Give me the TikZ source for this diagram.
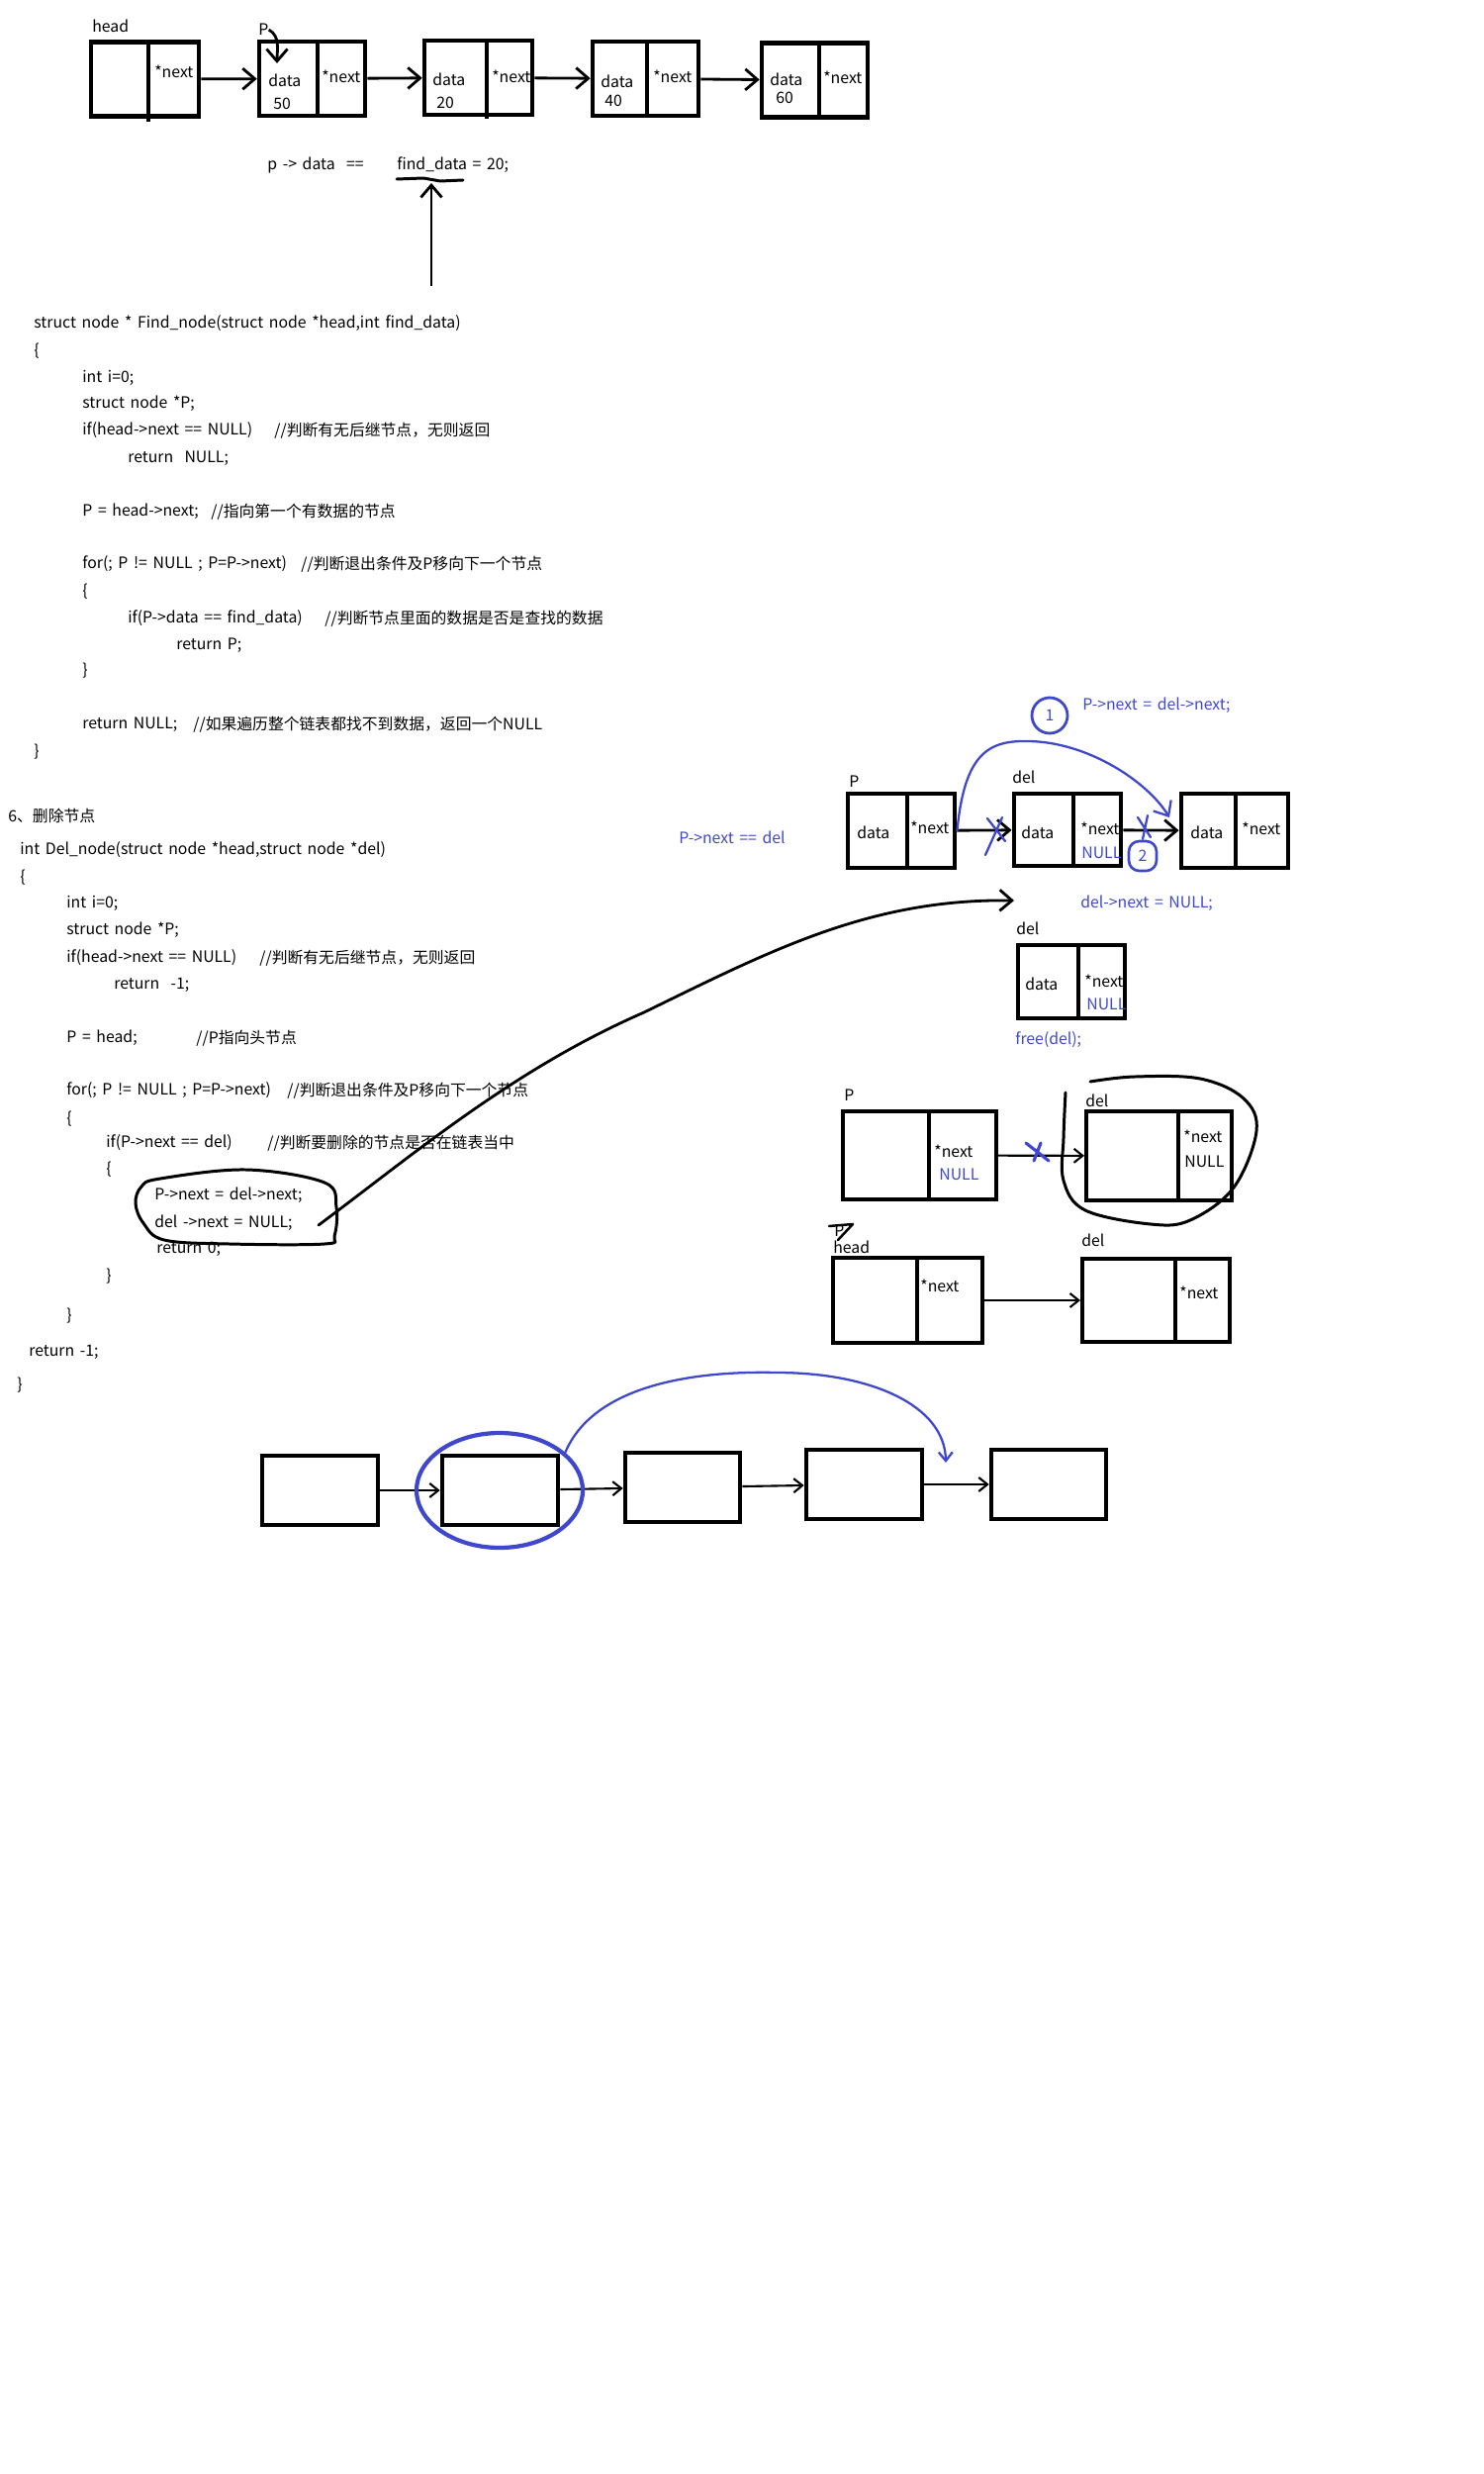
\documentclass[tikz,border=0pt]{standalone}
\usepackage{fontspec}
\setmainfont{Noto Sans CJK SC}[WordSpace=1.6]
\usetikzlibrary{arrows.meta,positioning,shapes.geometric}
\definecolor{pen}{RGB}{63,72,204}

\begin{document}
\begin{tikzpicture}[x=0.02cm,y=-0.02cm,
  every node/.style={font=\fontsize{9}{11}\selectfont},
  txt/.style={anchor=west,inner sep=0pt},
  bluetxt/.style={anchor=west,inner sep=0pt,text=pen},
  cell/.style={draw,line width=2.6pt,inner sep=0pt,minimum width=2.14cm,minimum height=1.5cm},
  cellb/.style={draw,line width=2.8pt,inner sep=0pt,minimum width=2.16cm,minimum height=1.5cm},
  cellc/.style={draw,line width=2.3pt,inner sep=0pt},
  sq/.style={draw,line width=2.6pt,inner sep=0pt,minimum width=2.34cm,minimum height=1.4cm},
  divline/.style={line width=1.8pt},
  link/.style={line width=1.6pt,-{Straight Barb[length=7pt,width=12pt]}},
  slink/.style={line width=1.2pt,-{Straight Barb[length=5pt,width=8pt]}},
  hand/.style={line width=1.7pt,line cap=round,line join=round},
  bluepen/.style={draw=pen,line width=1.3pt,line cap=round}]
\useasboundingbox (0,0) rectangle (1500,2500);

% search list
\node[cell,minimum width=2.18cm] (hd) at (146.5,80) {};
\node[cell] (n1) at (315.5,79.5) {};
\node[cell,minimum width=2.18cm] (n2) at (483.5,78.5) {};
\node[cell] (n3) at (652.5,79.5) {};
\node[cell] (n4) at (823.5,81) {};
\draw[divline] (150,42) -- (150,123);
\draw[divline] (321,42) -- (321,117);
\draw[divline] (492,41) -- (492,120);
\draw[divline] (654,42) -- (654,117);
\draw[divline] (828,43) -- (828,119);
\node[txt] (hdtxt) at (93,26) {head};
\node[txt] (hdnx) at (156,72) {*next};
\node[txt] (n1d) at (271,81) {data};
\node[txt] (n1v) at (276,105) {50};
\node[txt] (n1nx) at (325,77) {*next};
\node[txt] (n2d) at (437,80) {data};
\node[txt] (n2v) at (441,104) {20};
\node[txt] (n2nx) at (497,77) {*next};
\node[txt] (n3d) at (607,82) {data};
\node[txt] (n3v) at (611,102) {40};
\node[txt] (n3nx) at (660,77) {*next};
\node[txt] (n4d) at (778,80) {data};
\node[txt] (n4v) at (784,99) {60};
\node[txt] (n4nx) at (832,78) {*next};
\draw[link] (hd) -- (n1);
\draw[link] (n1) -- (n2);
\draw[link] (n2) -- (n3);
\draw[link] (n3) -- (n4);
\node[txt] (plbl) at (261,30) {P};
\coordinate (ptip) at (280,64);
\draw[link] (plbl.east) to[out=-30,in=90] (ptip);

\node[txt] (cmp) at (270,167) {p -> data\ \ ==};
\node[txt] (fdv) at (401,167) {find\_data = 20;};
\draw[hand] (401,181) -- (428,180) -- (445,183) -- (468,182);
\coordinate (ulbot) at (436,289);
\coordinate (ultop) at (436,185);
\draw[link] (ulbot) -- (ultop);

% Find_node
\node[txt] (f1) at (34,327) {struct node * Find\_node(struct node *head,int find\_data)};
\node[txt] (f2) at (34,355) {\{};
\node[txt] (f3) at (83,382) {int i=0;};
\node[txt] (f4) at (83,408) {struct node *P;};
\node[txt] (f5) at (83,435) {if(head->next == NULL)};
\node[txt] (f5c) at (277,435) {//判断有无后继节点，无则返回};
\node[txt] (f6) at (129,463) {return\ \ NULL;};
\node[txt] (f7) at (83,517) {P = head->next;};
\node[txt] (f7c) at (213,517) {//指向第一个有数据的节点};
\node[txt] (f8) at (83,570) {for(; P != NULL ; P=P->next)};
\node[txt] (f8c) at (304,570) {//判断退出条件及P移向下一个节点};
\node[txt] (f9) at (83,598) {\{};
\node[txt] (f10) at (129,625) {if(P->data == find\_data)};
\node[txt] (f10c) at (328,625) {//判断节点里面的数据是否是查找的数据};
\node[txt] (f11) at (178,652) {return P;};
\node[txt] (f12) at (83,678) {\}};
\node[txt] (f13) at (83,732) {return NULL;};
\node[txt] (f13c) at (195,732) {//如果遍历整个链表都找不到数据，返回一个NULL};
\node[txt] (f14) at (34,760) {\}};

% Del_node
\node[txt] (s6) at (8,824) {6、删除节点};
\node[txt] (d1) at (20,859) {int Del\_node(struct node *head,struct node *del)};
\node[txt] (d2) at (20,887) {\{};
\node[txt] (d3) at (67,913) {int i=0;};
\node[txt] (d4) at (67,940) {struct node *P;};
\node[txt] (d5) at (67,968) {if(head->next == NULL)};
\node[txt] (d5c) at (262,968) {//判断有无后继节点，无则返回};
\node[txt] (d6) at (115,995) {return\ \ -1;};
\node[txt] (d7) at (67,1049) {P = head;};
\node[txt] (d7c) at (198,1049) {//P指向头节点};
\node[txt] (d8) at (67,1102) {for(; P != NULL ; P=P->next)};
\node[txt] (d8c) at (290,1102) {//判断退出条件及P移向下一个节点};
\node[txt] (d9) at (67,1131) {\{};
\node[txt] (d10) at (107,1155) {if(P->next == del)};
\node[txt] (d10c) at (270,1155) {//判断要删除的节点是否在链表当中};
\node[txt] (d11) at (107,1182) {\{};
\node[txt] (d12) at (156,1208) {P->next = del->next;};
\node[txt] (d13) at (156,1236) {del ->next = NULL;};
\node[txt] (d14) at (158,1262) {return 0;};
\node[txt] (d15) at (107,1290) {\}};
\node[txt] (d16) at (67,1330) {\}};
\node[txt] (d17) at (29,1366) {return -1;};
\node[txt] (d18) at (17,1400) {\}};
\draw[hand] plot[smooth cycle,tension=0.6] coordinates {(162,1191) (249,1182) (328,1195) (340,1220) (338,1249) (328,1257) (232,1257) (166,1253) (145,1236) (137,1216) (143,1199)};
\coordinate (loopout) at (322,1238);
\coordinate (freetip) at (1025,910);
\draw[hand,link] (loopout) .. controls (420,1165) and (520,1080) .. (651,1023) .. controls (780,960) and (880,908) .. (freetip);

% delete step
\node[cellb] (pb) at (911,839.5) {};
\node[cellb,minimum height=1.46cm] (db) at (1079,838.5) {};
\node[cellb] (nb) at (1248,839.5) {};
\node[cellb,minimum height=1.48cm] (fb) at (1083,992) {};
\draw[divline,line width=2.4pt] (917,802) -- (917,877);
\draw[divline,line width=2.4pt] (1085,802) -- (1085,875);
\draw[divline,line width=2.4pt] (1249,802) -- (1249,877);
\draw[divline,line width=2.4pt] (1090,955) -- (1090,1031);
\node[txt] (pl) at (858,790) {P};
\node[txt] (dl) at (1023,785) {del};
\node[txt] (fl) at (1027,938) {del};
\node[txt] (pbd) at (866,841) {data};
\node[txt] (pbn) at (920,836) {*next};
\node[txt] (dbd) at (1032,841) {data};
\node[txt] (dbn) at (1092,837) {*next};
\node[bluetxt] (dbnull) at (1093,862) {NULL};
\node[txt] (nbd) at (1203,841) {data};
\node[txt] (nbn) at (1255,837) {*next};
\node[txt] (fbd) at (1036,994) {data};
\node[txt] (fbn) at (1096,991) {*next};
\node[bluetxt] (fbnull) at (1098,1015) {NULL};
\node[bluetxt] (eq1) at (686,846) {P->next == del};
\node[bluetxt] (eq2) at (1094,713) {P->next = del->next;};
\node[bluetxt] (eq3) at (1092,913) {del->next = NULL;};
\node[bluetxt] (fr) at (1026,1051) {free(del);};
\node[draw=pen,circle,line width=1.6pt,minimum size=0.72cm,inner sep=0pt,text=pen] (c1) at (1061,723) {1};
\node[draw=pen,rounded corners=6pt,line width=1.5pt,minimum width=0.56cm,minimum height=0.6cm,inner sep=0pt,text=pen] (c2) at (1155,865) {2};
\draw[link] (pb) -- (db);
\draw[link] (db) -- (nb);
\draw[bluepen] (998,827) -- (1016,850) (1013,826) -- (996,864);
\draw[bluepen] (1150,826) -- (1163,846) (1160,824) -- (1155,848);
\coordinate (jumptip) at (1182,826);
\draw[bluepen,link,line width=1.3pt] (pb.east) .. controls (975,760) and (1000,748) .. (1040,749) .. controls (1100,750) and (1160,790) .. (jumptip);

% head case
\node[cellc,minimum width=3.1cm,minimum height=1.78cm] (pb2) at (929.5,1167.5) {};
\node[cellc,minimum width=2.94cm,minimum height=1.8cm] (db3) at (1171.5,1168) {};
\node[cellc,minimum width=3.02cm,minimum height=1.72cm] (hb) at (917.5,1314) {};
\node[cellc,minimum width=2.98cm,minimum height=1.68cm] (db4) at (1168.5,1314) {};
\draw[divline] (939,1123) -- (939,1212);
\draw[divline] (1191,1123) -- (1191,1213);
\draw[divline] (927,1271) -- (927,1357);
\draw[divline] (1188,1272) -- (1188,1358);
\node[txt] (pl2) at (853,1107) {P};
\node[txt] (dl3) at (1097,1112) {del};
\node[txt] (hl) at (842,1260) {head};
\node[txt] (dl4) at (1093,1253) {del};
\node[txt] (pl3) at (843,1244) {P};
\draw[hand,line width=1.4pt] (838,1239) -- (862,1237) -- (847,1253);
\node[txt] (pb2n) at (944,1163) {*next};
\node[bluetxt] (pb2null) at (949,1187) {NULL};
\node[txt] (db3n) at (1196,1148) {*next};
\node[txt] (db3null) at (1197,1174) {NULL};
\node[txt] (hbn) at (930,1299) {*next};
\node[txt] (db4n) at (1192,1306) {*next};
\draw[slink] (pb2) -- (db3);
\draw[slink] (hb) -- (db4);
\draw[bluepen,line width=1.8pt] (1037,1155) -- (1060,1173) (1052,1155) -- (1045,1173);
\draw[hand] plot[smooth,tension=0.6] coordinates {(1077,1104) (1075,1150) (1075,1193) (1097,1223) (1163,1237) (1203,1233) (1247,1200) (1270,1143) (1257,1110) (1213,1090) (1147,1088) (1102,1093)};

% skip node
\node[sq] (qa) at (323.5,1506) {};
\node[sq] (qb) at (505.5,1506) {};
\node[sq,minimum width=2.32cm] (qc) at (690,1503) {};
\node[sq] (qd) at (873.5,1500) {};
\node[sq,minimum width=2.32cm] (qe) at (1060,1500) {};
\draw[slink] (qa) -- (qb);
\draw[slink] (qb) -- (qc);
\draw[slink] (qc) -- (qd);
\draw[slink] (qd) -- (qe);
\node[draw=pen,ellipse,line width=2.4pt,minimum width=3.36cm,minimum height=2.32cm] (ring) at (505,1506) {};
\coordinate (skiptip) at (956,1478);
\draw[bluepen,slink,line width=1.3pt] (ring.30) .. controls (600,1400) and (700,1385) .. (785,1387) .. controls (880,1387) and (955,1420) .. (skiptip);
\end{tikzpicture}
\end{document}
